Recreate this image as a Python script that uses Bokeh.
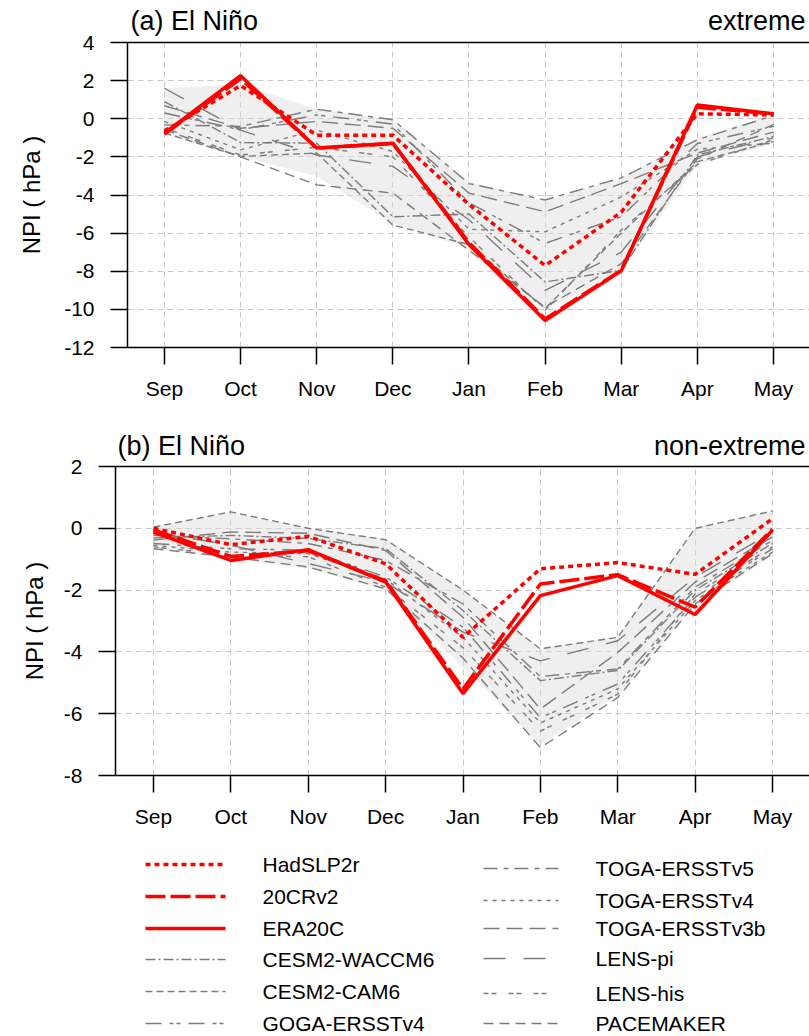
from bokeh.plotting import figure
from bokeh.layouts import column
from bokeh.models import Range1d, FixedTicker, LinearAxis
from bokeh.embed import file_html
from bokeh.resources import INLINE
from bokeh.core.properties import value

FONT = "Liberation Sans"

months = ["Sep", "Oct", "Nov", "Dec", "Jan", "Feb", "Mar", "Apr", "May"]

# ---------------- panel (a) extreme El Nino ----------------
a_hadslp2r = [-0.65, 1.74, -0.86, -0.86, -4.5, -7.7, -4.9, 0.26, 0.2]
a_20crv2 = [-0.8, 2.1, -1.55, -1.3, -6.5, -10.5, -7.95, 0.6, 0.25]
a_era20c = [-0.75, 2.26, -1.54, -1.28, -6.6, -10.58, -7.98, 0.72, 0.26]

a_cesm2_waccm6 = [0.9, -1.25, -1.28, -5.14, -5.0, -8.56, -7.95, -1.9, -0.93]
a_cesm2_cam6 = [-0.75, -1.98, -1.8, -5.58, -6.6, -9.95, -6.0, -2.25, -1.19]
a_goga_ersstv4 = [0.3, -0.58, 0.2, -0.28, -4.4, -6.54, -5.14, -1.3, -0.4]
a_toga_ersstv5 = [-0.32, -0.4, 0.5, -0.05, -3.4, -4.26, -3.1, -1.1, 0.16]
a_toga_ersstv4 = [-0.14, -1.63, -0.6, -1.72, -5.8, -5.93, -4.1, -1.6, -1.28]
a_toga_ersstv3b = [0.68, -0.5, -0.14, -0.5, -3.9, -4.88, -3.4, -1.8, -0.7]
a_lens_pi = [1.6, -0.6, -1.9, -2.5, -5.3, -9.0, -7.0, -2.0, -1.0]
a_lens_his = [-0.49, -1.9, -1.5, -2.0, -6.2, -10.05, -5.84, -2.4, -1.1]
a_pacemaker = [-0.58, -2.0, -3.47, -3.9, -6.9, -9.88, -7.6, -2.1, -0.3]

a_spread_upper = [1.6, 1.8, 0.5, -0.05, -3.3, -4.3, -3.1, -1.0, 0.2]
a_spread_lower = [-0.8, -2.0, -3.0, -5.5, -6.8, -10.0, -8.0, -2.4, -1.3]

# ---------------- panel (b) non-extreme El Nino ----------------
b_hadslp2r = [0.0, -0.53, -0.26, -1.15, -3.53, -1.31, -1.11, -1.49, 0.31]
b_20crv2 = [-0.05, -0.91, -0.73, -1.7, -5.2, -1.8, -1.5, -2.55, -0.03]
b_era20c = [-0.12, -1.04, -0.69, -1.74, -5.35, -2.18, -1.53, -2.79, -0.06]

b_cesm2_waccm6 = [-0.31, -0.23, -0.33, -0.66, -2.66, -4.93, -4.6, -2.0, -0.49]
b_cesm2_cam6 = [0.04, 0.53, 0.0, -0.37, -2.0, -3.9, -3.53, 0.0, 0.56]
b_goga_ersstv4 = [-0.49, -0.66, -0.71, -1.58, -3.2, -6.13, -5.04, -2.23, -0.66]
b_toga_ersstv5 = [-0.23, -0.34, -0.49, -1.04, -2.45, -4.8, -4.55, -1.9, -0.39]
b_toga_ersstv4 = [-0.55, -0.77, -0.82, -1.64, -3.53, -6.3, -5.2, -2.34, -0.77]
b_toga_ersstv3b = [-0.38, -0.12, -0.16, -0.72, -2.88, -5.85, -4.02, -1.74, -0.28]
b_lens_pi = [-0.12, -0.55, -1.14, -1.74, -3.36, -4.29, -3.64, -1.58, -0.12]
b_lens_his = [-0.6, -0.88, -0.92, -1.9, -3.86, -6.56, -5.37, -2.12, -0.6]
b_pacemaker = [-0.66, -0.93, -1.25, -1.96, -4.2, -7.1, -5.48, -2.45, -0.82]

b_spread_upper = [0.05, 0.5, 0.0, -0.35, -2.0, -3.9, -3.5, 0.0, 0.55]
b_spread_lower = [-0.65, -1.0, -1.3, -2.0, -4.5, -7.0, -5.4, -2.5, -0.9]

obs_names = ["HadSLP2r", "20CRv2", "ERA20C"]
model_names = ["CESM2-WACCM6", "CESM2-CAM6", "GOGA-ERSSTv4", "TOGA-ERSSTv5",
               "TOGA-ERSSTv4", "TOGA-ERSSTv3b", "LENS-pi", "LENS-his", "PACEMAKER"]

RED = "#ff0000"
GRAY = "#7c7c7c"
obs_styles = {
    "HadSLP2r": dict(line_dash="5 4", line_width=3.5),
    "20CRv2": dict(line_dash="20 5", line_width=3.5),
    "ERA20C": dict(line_dash="solid", line_width=3.5),
}
model_dash = {
    "CESM2-WACCM6": "10 3 2 3",
    "CESM2-CAM6": "7 4",
    "GOGA-ERSSTv4": "16 8 4 3 4 8",
    "TOGA-ERSSTv5": "14 6 5 6",
    "TOGA-ERSSTv4": "4 5",
    "TOGA-ERSSTv3b": "16 7",
    "LENS-pi": "22 18",
    "LENS-his": "5 3 5 12",
    "PACEMAKER": "10 6",
}

a_obs = [a_hadslp2r, a_20crv2, a_era20c]
a_models = [a_cesm2_waccm6, a_cesm2_cam6, a_goga_ersstv4, a_toga_ersstv5, a_toga_ersstv4,
            a_toga_ersstv3b, a_lens_pi, a_lens_his, a_pacemaker]
b_obs = [b_hadslp2r, b_20crv2, b_era20c]
b_models = [b_cesm2_waccm6, b_cesm2_cam6, b_goga_ersstv4, b_toga_ersstv5, b_toga_ersstv4,
            b_toga_ersstv3b, b_lens_pi, b_lens_his, b_pacemaker]

xs = list(range(len(months)))
W = 809


def make_header(height, left, xr, ymid, title_left, title_right, lpad, rpad):
    h = figure(width=W, height=height, x_range=Range1d(*xr), y_range=Range1d(height, 0),
               output_backend="svg", toolbar_location=None,
               min_border_left=left, min_border_right=0, min_border_top=0, min_border_bottom=0,
               x_axis_location=None, y_axis_location=None)
    h.grid.visible = False
    h.outline_line_color = None
    h.text(x=[xr[0]], y=[ymid], text=[title_left], x_offset=lpad,
           text_font=value(FONT), text_font_size="27px", text_align="left",
           text_baseline="middle", text_color="black")
    h.text(x=[xr[1]], y=[ymid], text=[title_right], x_offset=-rpad,
           text_font=value(FONT), text_font_size="27px", text_align="right",
           text_baseline="middle", text_color="black")
    return h


def make_panel(height, top, bottom, left, xr, yr, ystep, obs, models, upper, lower,
               lab_standoff, overlap):
    p = figure(width=W, height=height, x_range=Range1d(*xr), y_range=Range1d(*yr),
               output_backend="svg", toolbar_location=None,
               min_border_left=left, min_border_right=0,
               min_border_top=top, min_border_bottom=bottom,
               margin=(-overlap, 0, 0, 0))
    p.outline_line_color = None
    p.border_fill_alpha = 0

    yticks = list(range(yr[0], yr[1] + 1, ystep))
    p.xaxis.ticker = FixedTicker(ticks=xs)
    p.xaxis.major_label_overrides = {i: m for i, m in enumerate(months)}
    p.yaxis.ticker = FixedTicker(ticks=yticks)
    p.yaxis.major_label_overrides = {t: str(t) for t in yticks}
    p.xgrid.ticker = FixedTicker(ticks=xs)
    p.ygrid.ticker = FixedTicker(ticks=yticks)
    for g in (p.xgrid, p.ygrid):
        g.grid_line_color = "#c8c8c8"
        g.grid_line_dash = "6 4"
        g.grid_line_width = 1

    for ax in (p.xaxis, p.yaxis):
        ax.axis_line_color = "black"
        ax.axis_line_width = 1.5
        ax.major_tick_line_color = "black"
        ax.major_tick_line_width = 1.5
        ax.major_tick_out = 17
        ax.major_tick_in = 0
        ax.minor_tick_out = 0
        ax.minor_tick_in = 0
        ax.major_label_text_font = FONT
        ax.major_label_text_font_size = "21px"
        ax.major_label_text_color = "black"
    p.xaxis.major_label_standoff = 12
    p.yaxis.major_label_standoff = 16
    p.yaxis.axis_label = "NPI ( hPa )"
    p.yaxis.axis_label_text_font = FONT
    p.yaxis.axis_label_text_font_size = "24px"
    p.yaxis.axis_label_text_font_style = "normal"
    p.yaxis.axis_label_text_color = "black"
    p.yaxis.axis_label_standoff = lab_standoff

    top_axis = LinearAxis(ticker=FixedTicker(ticks=[]), major_tick_out=0, major_tick_in=0,
                          minor_tick_out=0, minor_tick_in=0,
                          major_label_text_font_size="0px",
                          axis_line_color="black", axis_line_width=1.5)
    p.add_layout(top_axis, "above")

    p.varea(x=xs, y1=lower, y2=upper, fill_color="#dcdcdc", fill_alpha=0.45)

    for name, vals in zip(model_names, models):
        p.line(xs, vals, line_color=GRAY, line_width=1.4, line_dash=model_dash[name])
    for name, vals in zip(obs_names, obs):
        p.line(xs, vals, line_color=RED, **obs_styles[name])
    return p


XA = (-0.486, 8.473)
XB = (-0.491, 8.478)
LEFT_A, LEFT_B = 127, 115

# header (a): 0-44 ; panel (a) canvas 30-410 (frame 42-347)
hdr_a = make_header(44, LEFT_A, XA, 20, "(a) El Niño", "extreme", 3, 4)
pa = make_panel(380, 12, 63, LEFT_A, XA, (-12, 4), 2, a_obs, a_models,
                a_spread_upper, a_spread_lower, 16, 14)
# header (b): 410-462 ; panel (b) canvas 452-845 (frame 466-775)
hdr_b = make_header(52, LEFT_B, XB, 35, "(b) El Niño", "non-extreme", 2, 4)
pb = make_panel(393, 14, 70, LEFT_B, XB, (-8, 2), 2, b_obs, b_models,
                b_spread_upper, b_spread_lower, 13, 10)

# ---------------- legend ----------------
LH = 189
leg = figure(width=W, height=LH, x_range=Range1d(LEFT_B, W), y_range=Range1d(LH, 0),
             output_backend="svg", toolbar_location=None,
             min_border_left=LEFT_B, min_border_right=0, min_border_top=0, min_border_bottom=0,
             x_axis_location=None, y_axis_location=None)
leg.grid.visible = False
leg.outline_line_color = None

left_names = obs_names + model_names[:3]
right_names = model_names[3:]
left_rows = [19, 51, 83, 114, 146, 178]
right_rows = [23, 55, 83, 113, 148, 178]
for name, y in zip(left_names, left_rows):
    if name in obs_styles:
        leg.line([145, 225], [y, y], line_color=RED, **obs_styles[name])
    else:
        leg.line([145, 225], [y, y], line_color=GRAY, line_width=1.4, line_dash=model_dash[name])
    leg.text(x=[262], y=[y], text=[name], text_font=value(FONT), text_font_size="21px",
             text_baseline="middle", text_align="left", text_color="black")
for name, y in zip(right_names, right_rows):
    leg.line([483, 558], [y, y], line_color=GRAY, line_width=1.4, line_dash=model_dash[name])
    leg.text(x=[595], y=[y], text=[name], text_font=value(FONT), text_font_size="21px",
             text_baseline="middle", text_align="left", text_color="black")

layout = column(column(hdr_a, pa, spacing=0), column(hdr_b, pb, leg, spacing=0), spacing=0)
open("out.html", "w").write(file_html(layout, INLINE))
